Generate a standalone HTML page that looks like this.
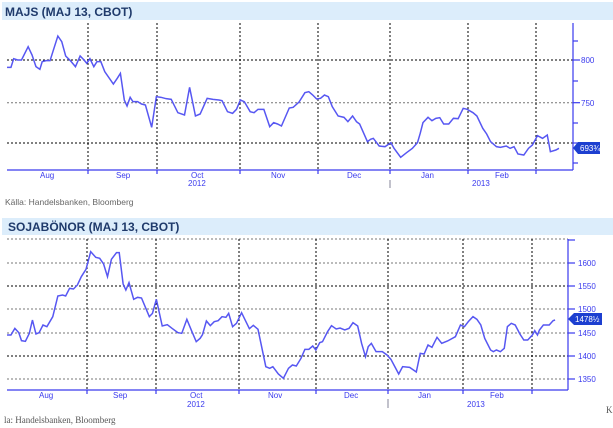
<!DOCTYPE html>
<html><head><meta charset="utf-8"><style>
body{margin:0;background:#fff;width:613px;height:428px;overflow:hidden;font-family:"Liberation Sans",sans-serif}
svg{position:absolute;left:0;top:0}
</style></head><body>
<svg width="613" height="428" viewBox="0 0 613 428">
<!-- Chart 1 -->
<rect x="2" y="2" width="611" height="18" fill="#dcedfb"/>
<text x="5" y="16" font-size="12" font-weight="bold" fill="#1f3a6b">MAJS (MAJ 13, CBOT)</text>
<g stroke="#000" stroke-width="1" stroke-dasharray="2,2" fill="none">
<line x1="7" y1="60" x2="573" y2="60"/>
<line x1="7" y1="102.7" x2="573" y2="102.7" stroke="#777"/>
<line x1="7" y1="143" x2="573" y2="143"/>
<line x1="88" y1="23" x2="88" y2="170"/><line x1="157" y1="23" x2="157" y2="170"/>
<line x1="240" y1="23" x2="240" y2="170"/><line x1="318" y1="23" x2="318" y2="170"/>
<line x1="390" y1="23" x2="390" y2="170"/><line x1="468" y1="23" x2="468" y2="170"/>
<line x1="536" y1="23" x2="536" y2="170"/>
</g>
<g stroke="#3a3aee" stroke-width="1.2" fill="none">
<line x1="7" y1="170" x2="573" y2="170"/>
<line x1="573" y1="23" x2="573" y2="170"/>
<line x1="573" y1="41" x2="578" y2="41"/><line x1="573" y1="60" x2="580" y2="60"/>
<line x1="573" y1="81" x2="578" y2="81"/><line x1="573" y1="102.7" x2="580" y2="102.7"/>
<line x1="573" y1="123" x2="578" y2="123"/><line x1="573" y1="143" x2="580" y2="143"/>
<line x1="573" y1="163" x2="578" y2="163"/>
<line x1="88" y1="170" x2="88" y2="174"/><line x1="157" y1="170" x2="157" y2="174"/><line x1="240" y1="170" x2="240" y2="174"/><line x1="318" y1="170" x2="318" y2="174"/><line x1="390" y1="170" x2="390" y2="174"/><line x1="468" y1="170" x2="468" y2="174"/><line x1="536" y1="170" x2="536" y2="174"/>
<line x1="390" y1="180" x2="390" y2="188" stroke="#99a"/>
</g>
<g font-size="8" fill="#3a3aee">
<text x="581" y="63">800</text><text x="581" y="106">750</text>
<text x="40" y="178">Aug</text><text x="116" y="178">Sep</text><text x="191" y="178">Oct</text><text x="271" y="178">Nov</text><text x="347" y="178">Dec</text><text x="421" y="178">Jan</text><text x="495" y="178">Feb</text>
<text x="188" y="186">2012</text><text x="472" y="186">2013</text>
</g>
<polygon points="573,148 578,142 600,142 600,154 578,154" fill="#1d3fd0"/>
<text x="580" y="151" font-size="8" fill="#fff">693¾</text>
<g transform="scale(0.3909,0.33333)">
<polyline vector-effect="non-scaling-stroke" fill="none" stroke="#5757f2" stroke-width="1.5" points="18,202 28,202 35,176 45,180 55,180 72,140 82,165 92,200 102,208 108,185 118,182 128,182 138,145 148,108 158,125 168,168 180,182 193,200 205,168 215,180 222,190 230,176 240,200 248,185 258,185 268,215 290,252 300,235 308,220 318,300 325,318 333,292 340,305 352,305 362,312 372,315 388,382 400,290 412,292 425,296 438,298 455,338 472,345 485,262 500,348 512,342 530,295 545,298 560,300 568,302 582,335 595,340 605,328 615,300 625,305 640,335 650,338 660,328 675,328 690,380 700,368 710,372 720,378 740,324 750,322 765,306 780,278 790,275 800,285 810,297 820,295 830,285 840,290 850,320 865,348 880,352 890,365 902,348 912,365 920,372 940,425 948,418 955,415 970,438 985,440 1000,428 1008,445 1025,472 1040,458 1055,445 1068,428 1075,400 1082,368 1095,352 1105,362 1115,355 1125,353 1135,372 1148,372 1160,355 1172,356 1185,325 1195,328 1210,338 1220,348 1235,385 1245,402 1255,425 1270,440 1280,442 1295,438 1305,445 1315,440 1325,462 1340,465 1352,445 1362,435 1375,407 1388,415 1400,405 1408,455 1422,450 1430,445"/>
</g>
<text x="5" y="205" font-size="8.5" fill="#666">Källa: Handelsbanken, Bloomberg</text>

<!-- Chart 2 -->
<rect x="2" y="218" width="611" height="17" fill="#dcedfb"/>
<text x="8" y="231" font-size="12" font-weight="bold" fill="#1f3a6b">SOJABÖNOR (MAJ 13, CBOT)</text>
<g stroke="#000" stroke-width="1" stroke-dasharray="2,2" fill="none">
<line x1="7" y1="239" x2="568" y2="239" stroke="#777"/>
<line x1="7" y1="263" x2="568" y2="263" stroke="#777"/>
<line x1="7" y1="286" x2="568" y2="286"/>
<line x1="7" y1="309" x2="568" y2="309" stroke="#777"/>
<line x1="7" y1="333" x2="568" y2="333" stroke="#777"/>
<line x1="7" y1="356" x2="568" y2="356"/>
<line x1="7" y1="379" x2="568" y2="379" stroke="#777"/>
<line x1="87" y1="239" x2="87" y2="390"/><line x1="156" y1="239" x2="156" y2="390"/>
<line x1="239" y1="239" x2="239" y2="390"/><line x1="316" y1="239" x2="316" y2="390"/>
<line x1="388" y1="239" x2="388" y2="390"/><line x1="463" y1="239" x2="463" y2="390"/>
<line x1="532" y1="239" x2="532" y2="390"/>
</g>
<g stroke="#3a3aee" stroke-width="1.2" fill="none">
<line x1="7" y1="390" x2="568" y2="390"/>
<line x1="568" y1="239" x2="568" y2="390"/>
<line x1="568" y1="240" x2="575" y2="240"/>
<line x1="568" y1="263" x2="575" y2="263"/><line x1="568" y1="286" x2="575" y2="286"/><line x1="568" y1="309" x2="575" y2="309"/><line x1="568" y1="333" x2="575" y2="333"/><line x1="568" y1="356" x2="575" y2="356"/><line x1="568" y1="379" x2="575" y2="379"/>
<line x1="87" y1="390" x2="87" y2="394"/><line x1="156" y1="390" x2="156" y2="394"/><line x1="239" y1="390" x2="239" y2="394"/><line x1="316" y1="390" x2="316" y2="394"/><line x1="388" y1="390" x2="388" y2="394"/><line x1="463" y1="390" x2="463" y2="394"/><line x1="532" y1="390" x2="532" y2="394"/>
<line x1="388" y1="399" x2="388" y2="408" stroke="#99a"/>
</g>
<g font-size="8" fill="#3a3aee">
<text x="578" y="266">1600</text><text x="578" y="289">1550</text><text x="578" y="312">1500</text><text x="578" y="336">1450</text><text x="578" y="359">1400</text><text x="578" y="382">1350</text>
<text x="39" y="398">Aug</text><text x="113" y="398">Sep</text><text x="190" y="398">Oct</text><text x="268" y="398">Nov</text><text x="344" y="398">Dec</text><text x="418" y="398">Jan</text><text x="490" y="398">Feb</text>
<text x="187" y="407">2012</text><text x="467" y="407">2013</text>
</g>
<polygon points="568,319 574,313 602,313 602,325 574,325" fill="#1d3fd0"/>
<text x="575" y="322" font-size="8" fill="#fff">1478½</text>
<g transform="translate(0,210) scale(0.3909,0.33333)">
<polyline vector-effect="non-scaling-stroke" fill="none" stroke="#5757f2" stroke-width="1.5" points="18,375 28,375 38,355 48,368 55,392 65,394 75,370 83,330 92,372 100,368 110,345 120,350 135,320 148,258 160,255 168,258 178,235 188,237 198,225 208,200 220,178 232,125 245,142 255,145 265,162 275,200 285,148 298,128 305,128 315,222 322,240 330,218 342,268 352,262 362,264 372,292 382,320 390,310 400,268 415,348 428,344 440,355 455,368 465,370 478,328 490,362 502,395 512,385 518,374 528,333 538,347 548,335 558,332 568,320 578,322 585,310 595,350 605,340 618,308 628,332 638,356 648,346 660,358 680,470 690,475 698,470 712,492 725,505 738,475 748,465 758,468 770,445 780,418 790,418 800,408 808,420 818,398 825,395 838,365 848,347 860,357 870,354 882,360 893,355 903,338 915,348 925,400 935,440 942,410 950,400 962,425 978,425 990,435 1000,448 1010,470 1020,492 1030,470 1048,472 1065,486 1075,430 1085,432 1095,405 1105,412 1118,382 1130,400 1145,393 1165,380 1178,345 1188,350 1198,335 1210,320 1220,328 1230,345 1240,385 1255,420 1262,425 1270,420 1280,425 1290,415 1298,350 1308,340 1318,345 1330,372 1340,390 1350,390 1362,375 1368,362 1375,375 1380,360 1390,345 1405,345 1415,332 1420,330"/>
</g>
<text x="4" y="423" font-size="9" fill="#555" font-family="Liberation Serif,serif">la: Handelsbanken, Bloomberg</text>
<text x="606" y="413" font-size="9" fill="#555" font-family="Liberation Serif,serif">K</text>
</svg>
</body></html>
